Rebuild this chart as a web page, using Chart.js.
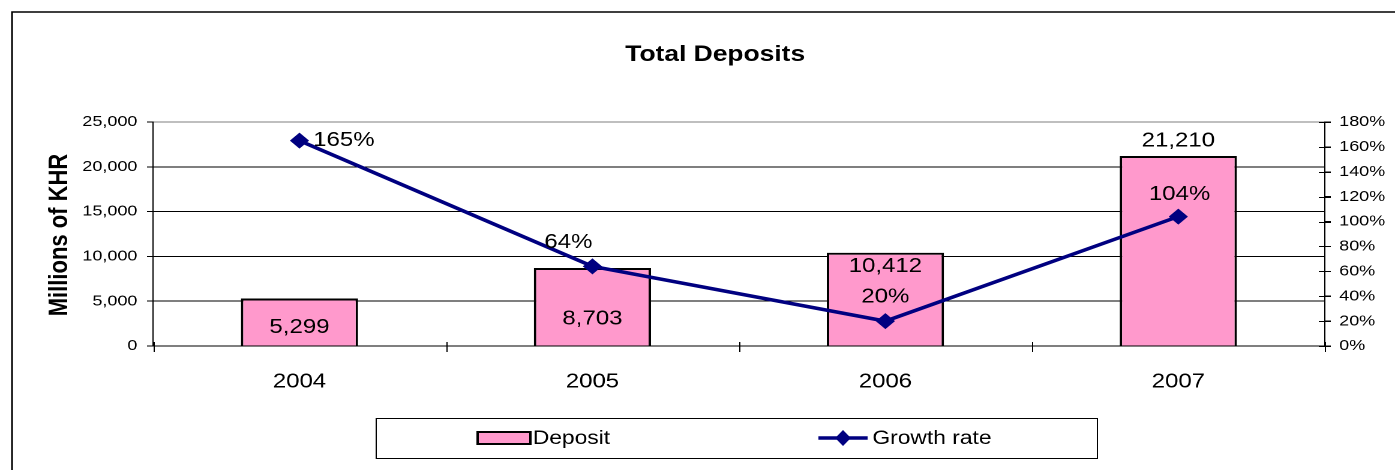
<!DOCTYPE html>
<html>
<head>
<meta charset="utf-8">
<script src="https://cdn.jsdelivr.net/npm/chart.js@4/dist/chart.umd.min.js"></script>
<style>
  html, body { margin: 0; padding: 0; background: #fff; overflow: hidden; }
  #wrap { width: 1163px; height: 470px; transform: scaleX(1.2); transform-origin: 0 0; }
</style>
</head>
<body>
<div id="wrap"><canvas id="myChart" width="1163" height="470"></canvas></div>
<script>
(() => {
  'use strict'

  // data
  const years = ['2004', '2005', '2006', '2007']
  const deposits = [5299, 8703, 10412, 21210]
  const growthRate = [165, 64, 20, 104]
  const depositTicks = [0, 5000, 10000, 15000, 20000, 25000]
  const growthTicks = [0, 20, 40, 60, 80, 100, 120, 140, 160, 180]

  const FONT = '"Liberation Sans", Arial, sans-serif'
  const PINK = '#FF99CC'
  const NAVY = '#000080'

  // label offsets (px) for data labels, relative to their mark
  const barLabelDy = [29, 51, 14, -15]
  const lineLabelDx = [37, -20, 0, 1]
  const lineLabelDy = [0, -24, -24, -22]

  const fmt = v => v.toLocaleString('en-US')

  const decor = {
    id: 'decor',
    beforeDraw (chart) {
      const c = chart.ctx
      c.save()
      c.fillStyle = '#fff'
      c.fillRect(0, 0, chart.width, chart.height)
      // outer frame
      c.strokeStyle = '#000'
      c.lineWidth = 1.5
      c.strokeRect(10, 12, chart.width + 20, chart.height + 20)
      c.restore()
    },
    afterDraw (chart) {
      const c = chart.ctx
      c.save()
      c.fillStyle = '#000'
      c.textAlign = 'center'
      c.textBaseline = 'middle'
      c.font = 'bold 22px ' + FONT
      c.fillText('Total Deposits', 596, 55)

      // y axis title
      c.save()
      c.translate(50, 235)
      c.rotate(-Math.PI / 2)
      c.font = 'bold 22px ' + FONT
      c.fillText('Millions of KHR', 0, 0)
      c.restore()

      // right axis ticks crossing the axis
      const y1 = chart.scales.y1
      c.strokeStyle = '#000'
      c.lineWidth = 1
      growthTicks.forEach(v => {
        const y = Math.round(y1.getPixelForValue(v)) + 0.5
        c.beginPath()
        c.moveTo(y1.left - 5, y)
        c.lineTo(y1.left + 5, y)
        c.stroke()
      })
      // x axis ticks crossing
      const xs = chart.scales.x
      for (let i = 0; i <= years.length; i++) {
        const x = Math.round(xs.left + (xs.right - xs.left) * i / years.length) + 0.5
        c.beginPath()
        c.moveTo(x, xs.top - 4)
        c.lineTo(x, xs.top + 6)
        c.stroke()
      }

      // legend
      c.strokeStyle = '#000'
      c.lineWidth = 1
      c.strokeRect(313.5, 418.5, 601, 40)
      c.fillStyle = PINK
      c.fillRect(398, 432, 44, 12)
      c.lineWidth = 2
      c.strokeRect(398, 432, 44, 12)
      c.fillStyle = '#000'
      c.textAlign = 'left'
      c.font = '19px ' + FONT
      c.fillText('Deposit', 444, 439)
      c.strokeStyle = NAVY
      c.lineWidth = 3.5
      c.beginPath()
      c.moveTo(682, 438)
      c.lineTo(723, 438)
      c.stroke()
      c.fillStyle = NAVY
      c.beginPath()
      c.moveTo(702.5, 430)
      c.lineTo(709, 438)
      c.lineTo(702.5, 446)
      c.lineTo(696, 438)
      c.closePath()
      c.fill()
      c.fillStyle = '#000'
      c.fillText('Growth rate', 727, 439)
      c.restore()
    },
    afterDatasetsDraw (chart) {
      const c = chart.ctx
      c.save()
      c.fillStyle = '#000'
      c.textAlign = 'center'
      c.textBaseline = 'middle'
      c.font = '20px ' + FONT
      chart.getDatasetMeta(1).data.forEach((bar, i) => {
        c.fillText(fmt(deposits[i]), bar.x, bar.y + barLabelDy[i])
      })
      chart.getDatasetMeta(0).data.forEach((pt, i) => {
        c.fillText(growthRate[i] + '%', pt.x + lineLabelDx[i], pt.y + lineLabelDy[i])
      })
      c.restore()
    }
  }

  const ctx = document.getElementById('myChart')
  // eslint-disable-next-line no-unused-vars
  const myChart = new Chart(ctx, {
    data: {
      labels: years,
      datasets: [{
        type: 'line',
        label: 'Growth rate',
        data: growthRate,
        yAxisID: 'y1',
        order: 0,
        borderColor: NAVY,
        backgroundColor: NAVY,
        borderWidth: 3.5,
        lineTension: 0,
        pointStyle: 'rectRot',
        pointRadius: 8,
        pointBorderWidth: 0,
        pointBackgroundColor: NAVY
      }, {
        type: 'bar',
        label: 'Deposit',
        data: deposits,
        yAxisID: 'y',
        order: 1,
        backgroundColor: PINK,
        borderColor: '#000',
        borderWidth: 2,
        barPercentage: 0.4,
        categoryPercentage: 1
      }]
    },
    options: {
      responsive: false,
      animation: false,
      devicePixelRatio: 2,
      layout: { padding: { top: 122, left: 0, right: 0, bottom: 0 } },
      plugins: {
        legend: { display: false },
        title: { display: false },
        tooltip: { enabled: false }
      },
      scales: {
        x: {
          afterFit: s => { s.height = 124 },
          grid: { display: false },
          border: { color: '#000', width: 1 },
          ticks: { color: '#000', padding: 16, font: { family: FONT, size: 20 } }
        },
        y: {
          position: 'left',
          min: 0,
          max: 25000,
          afterFit: s => { s.width = 127.5 },
          afterBuildTicks: s => { s.ticks = depositTicks.map(v => ({ value: v })) },
          grid: {
            color: ctx => ctx.tick && ctx.tick.value === 25000 ? '#808080' : '#000',
            lineWidth: 1,
            tickLength: 5,
            tickColor: '#000'
          },
          border: { color: '#000', width: 1 },
          ticks: {
            color: '#000',
            padding: 8,
            font: { family: FONT, size: 15 },
            callback: v => fmt(v)
          }
        },
        y1: {
          position: 'right',
          min: 0,
          max: 180,
          afterFit: s => { s.width = 59 },
          afterBuildTicks: s => { s.ticks = growthTicks.map(v => ({ value: v })) },
          grid: { drawOnChartArea: false, tickLength: 5, tickColor: '#000' },
          border: { color: '#000', width: 1 },
          ticks: {
            color: '#000',
            padding: 7,
            font: { family: FONT, size: 15 },
            callback: v => v + '%'
          }
        }
      }
    },
    plugins: [decor]
  })
})()
</script>
</body>
</html>
